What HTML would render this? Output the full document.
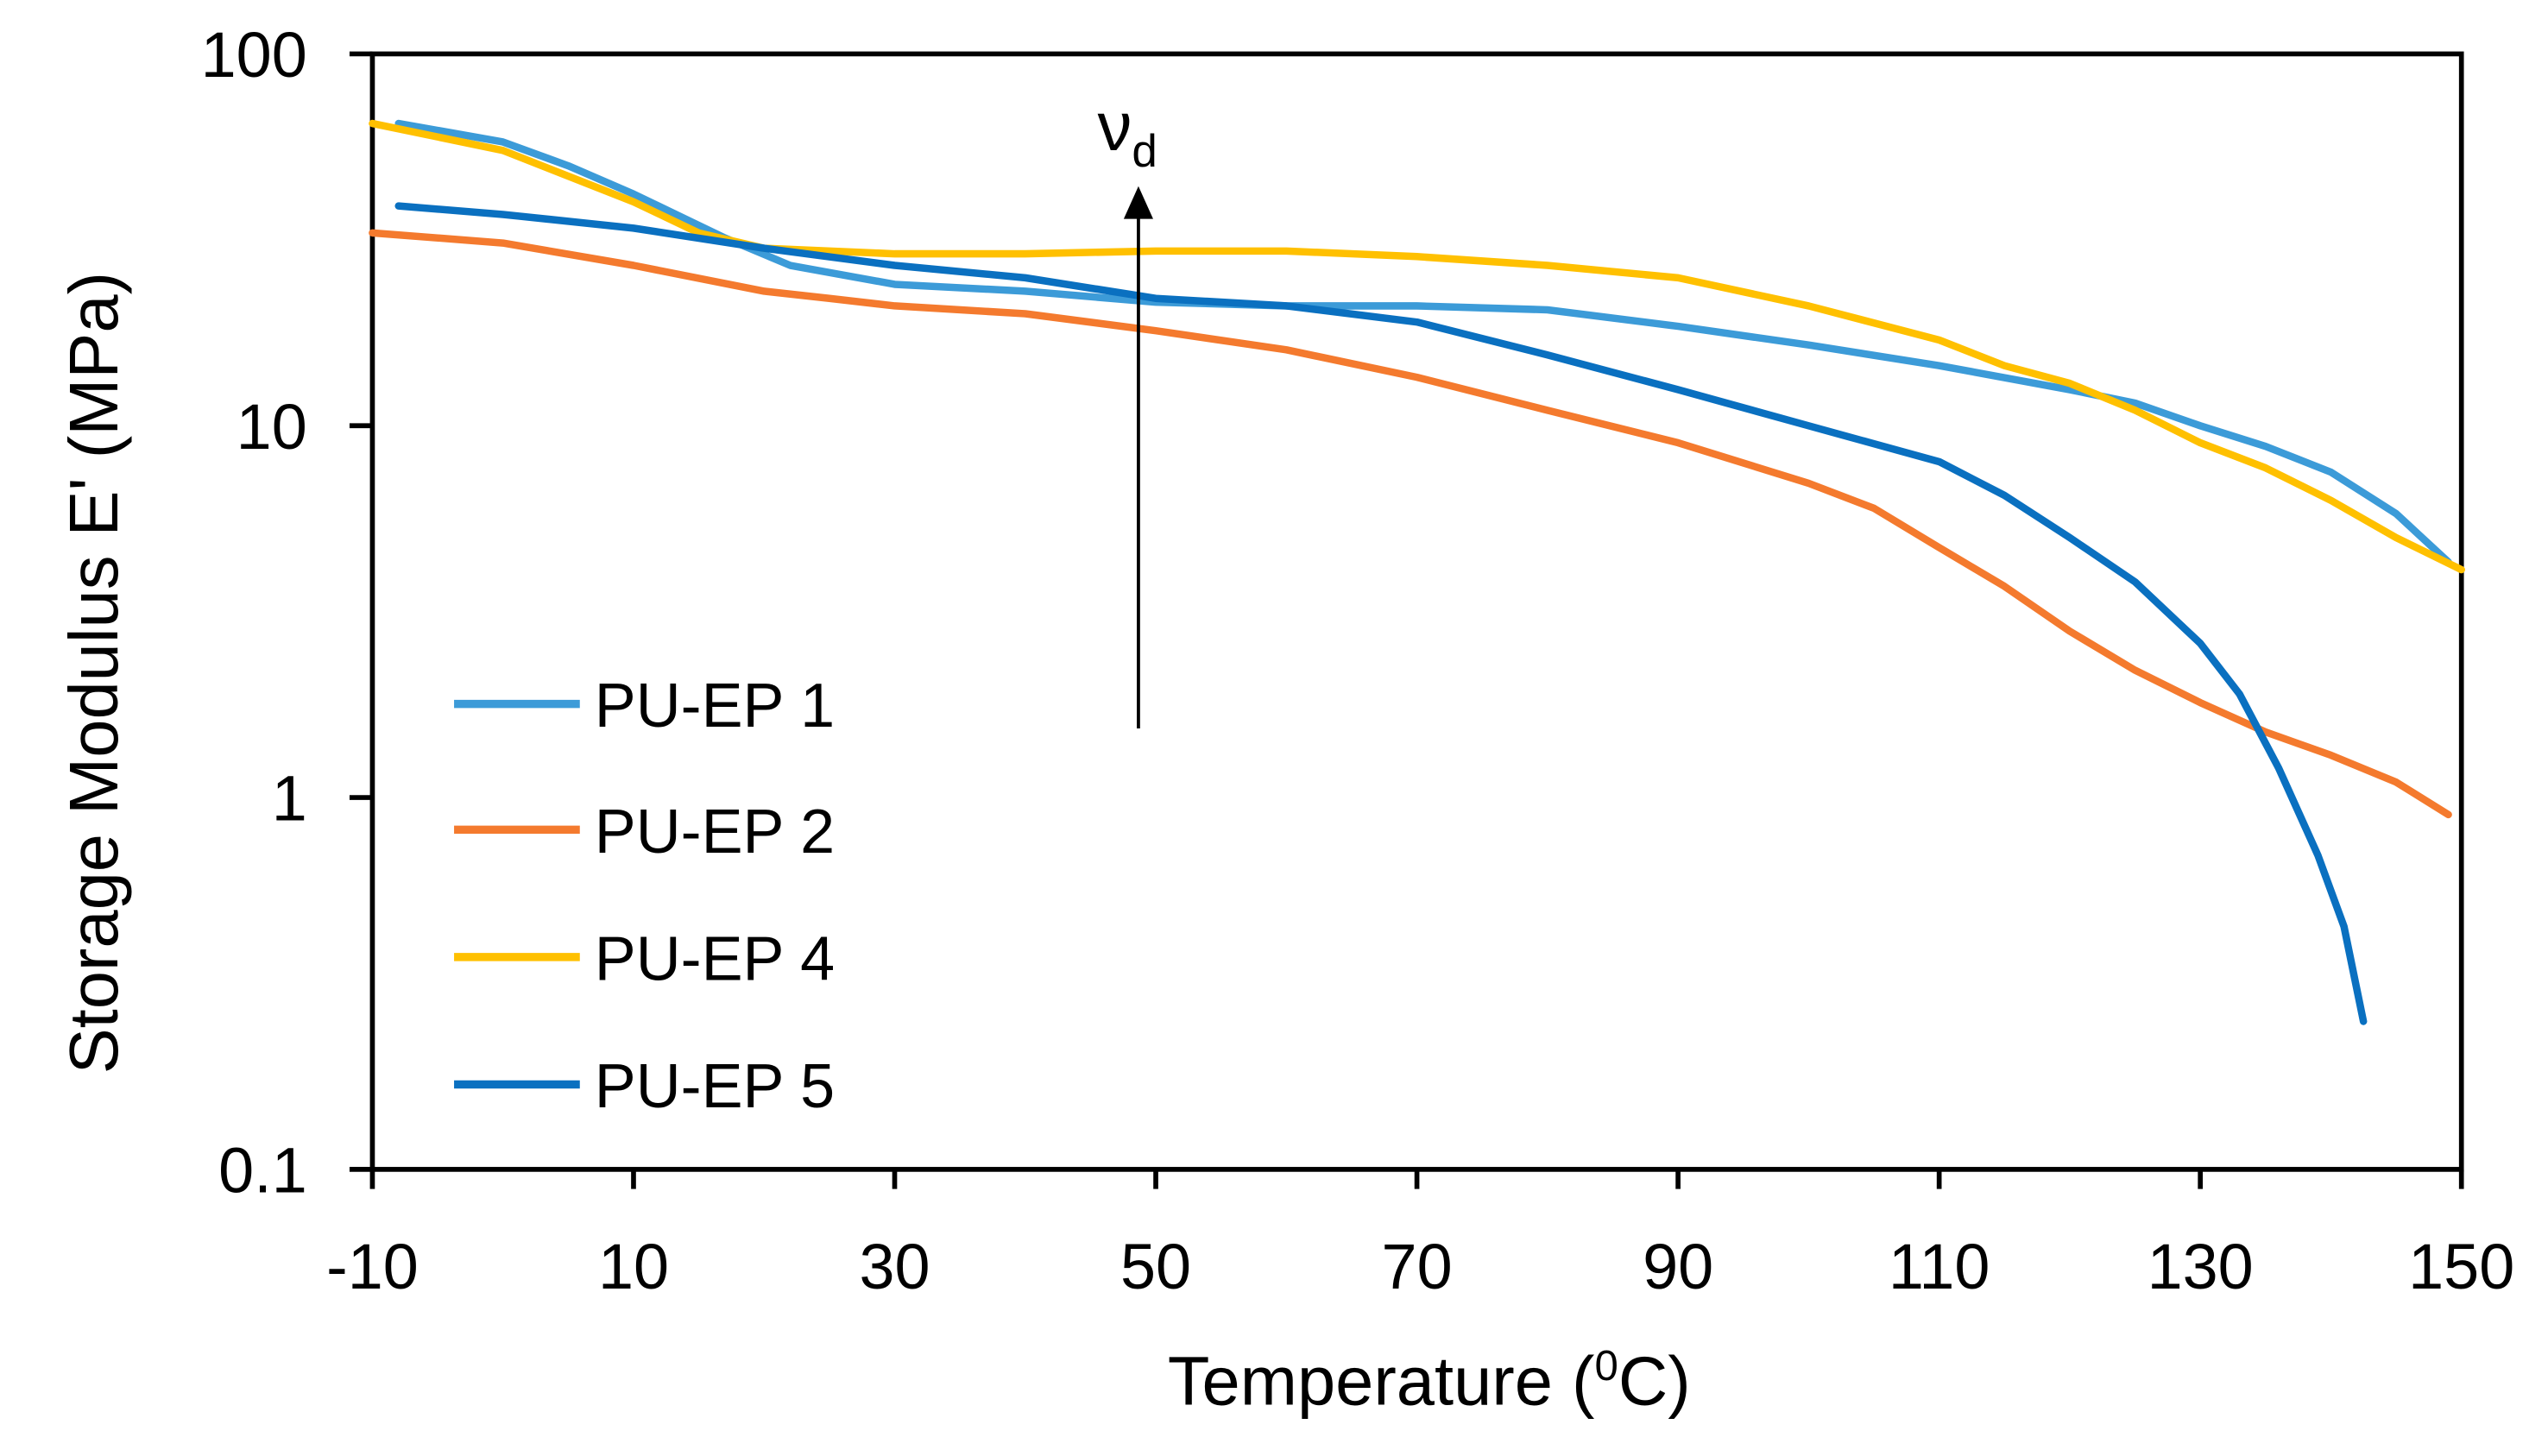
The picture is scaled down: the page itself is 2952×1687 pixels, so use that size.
<!DOCTYPE html>
<html><head><meta charset="utf-8"><style>
html,body{margin:0;padding:0;background:#fff;}
svg{display:block;}
text{font-family:"Liberation Sans",sans-serif;fill:#000;}
</style></head><body>
<svg id="chart" width="2952" height="1687" viewBox="0 0 1560 891.5" xmlns="http://www.w3.org/2000/svg">
<g id="plot"></g>
</svg>
<script>
const xTicks = [-10, 10, 30, 50, 70, 90, 110, 130, 150];
const yTicks = [0.1, 1, 10, 100];
const yTickLabels = ["0.1", "1", "10", "100"];
const seriesNames = ["PU-EP 1", "PU-EP 2", "PU-EP 4", "PU-EP 5"];
const seriesColors = ["#3c9bd8", "#f47a2e", "#ffc000", "#0a70c0"];
const t1 = [-8,0,5,10,17,22,30,40,50,60,70,80,90,100,110,120,125,130,135,140,145,149];
const e1 = [65,58,50,42,32,27,24,23,21.5,21,21,20.5,18.5,16.5,14.5,12.5,11.5,10,8.8,7.5,5.8,4.3];
const t2 = [-10,0,10,20,25,30,40,50,60,70,80,90,100,105,110,115,120,125,130,135,140,145,149];
const e2 = [33,31,27,23,22,21,20,18,16,13.5,11,9,7,6,4.7,3.7,2.8,2.2,1.8,1.5,1.3,1.1,0.9];
const t4 = [-10,0,10,15,20,30,40,50,60,70,80,90,100,110,115,120,125,130,135,140,145,150];
const e4 = [65,55,40,33,30,29,29,29.5,29.5,28.5,27,25,21,17,14.5,13,11,9,7.7,6.3,5,4.1];
const t5 = [-8,0,10,20,30,40,50,60,70,80,90,100,110,115,120,125,130,133,136,139,141,142.5];
const e5 = [39,37,34,30,27,25,22,21,19,15.5,12.5,10,8,6.5,5,3.8,2.6,1.9,1.2,0.7,0.45,0.25];
const seriesT = [t1, t2, t4, t5];
const seriesE = [e1, e2, e4, e5];

const X0 = 228, X1 = 1507, Y0 = 716, Y1 = 33;
const xs = v => X0 + (v - (-10)) / 160 * (X1 - X0);
const ys = v => Y0 - (Math.log10(v) - (-1)) / 3 * (Y0 - Y1);
const NS = "http://www.w3.org/2000/svg";
const g = document.getElementById('plot');
function mk(tag, attrs, parent) {
  const el = document.createElementNS(NS, tag);
  for (const k in attrs) el.setAttribute(k, attrs[k]);
  (parent || g).appendChild(el);
  return el;
}
const frame = mk('rect', {x: X0, y: Y1, width: X1 - X0, height: Y0 - Y1, fill: 'none', stroke: '#000', 'stroke-width': 3});


xTicks.forEach(v => {
  const tk = mk('line', {x1: xs(v), x2: xs(v), y1: Y0, y2: Y0 + 12, stroke: '#000', 'stroke-width': 3});
  
  
  const lb = mk('text', {x: xs(v), y: Y0 + 73, 'font-size': 39, 'text-anchor': 'middle'});
  lb.textContent = v;
  
  
});
yTicks.forEach((v, i) => {
  const tk = mk('line', {x1: X0 - 14, x2: X0, y1: ys(v), y2: ys(v), stroke: '#000', 'stroke-width': 3});
  
  
  const lb = mk('text', {x: X0 - 40, y: ys(v) + 14, 'font-size': 39, 'text-anchor': 'end'});
  lb.textContent = yTickLabels[i];
  
  
});
const xt = mk('text', {x: 875, y: 860, 'font-size': 42, 'text-anchor': 'middle'});
xt.innerHTML = 'Temperature (<tspan font-size="26" dy="-15">0</tspan><tspan dy="15">C)</tspan>';


const yt = mk('text', {x: 0, y: 0, 'font-size': 42, 'text-anchor': 'middle', transform: 'translate(72,412) rotate(-90)'});
yt.textContent = "Storage Modulus  E' (MPa)";


seriesT.forEach((T, s) => {
  const d = T.map((t, i) => (i ? 'L' : 'M') + xs(t).toFixed(1) + ',' + ys(seriesE[s][i]).toFixed(1)).join(' ');
  const p = mk('path', {d: d, fill: 'none', stroke: seriesColors[s], 'stroke-width': 4.5, 'stroke-linejoin': 'round', 'stroke-linecap': 'round'});
  
  
});
const ar = mk('line', {x1: 697, x2: 697, y1: 446, y2: 132, stroke: '#000', 'stroke-width': 2});


const ah = mk('polygon', {points: '697,114 688,134 706,134', fill: '#000'});


const nu = mk('text', {x: 672, y: 92, 'font-size': 42, 'font-family': 'Liberation Serif, serif'});
nu.innerHTML = 'ν<tspan font-size="28" dy="10" font-family="Liberation Sans, sans-serif">d</tspan>';


const legY = [431, 508, 586, 664];
seriesNames.forEach((n, i) => {
  const ln = mk('line', {x1: 278, x2: 355, y1: legY[i], y2: legY[i], stroke: seriesColors[i], 'stroke-width': 5});
  
  
  const tx = mk('text', {x: 364, y: legY[i] + 14, 'font-size': 38});
  tx.textContent = n;
  
  
});
</script>
</body></html>
